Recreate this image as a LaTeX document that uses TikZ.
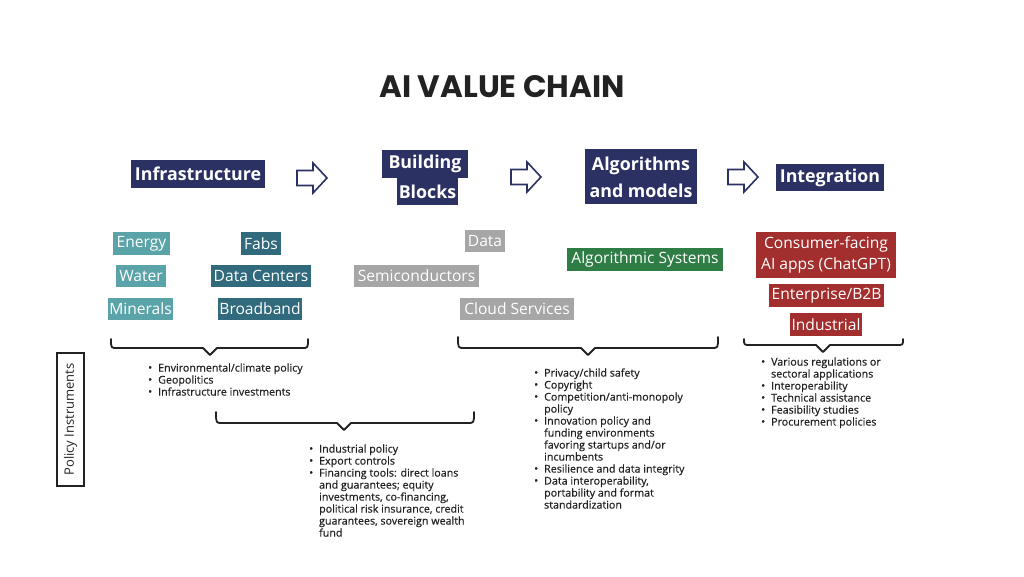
\documentclass[tikz,border=0pt]{standalone}
\usepackage{fontspec}
\setmainfont{Open Sans}
\newfontfamily\titlefont{Poppins}
\newfontfamily\listfont{Open Sans}[UprightFeatures={FakeBold=0.6}]
\usetikzlibrary{positioning}
\definecolor{navy}{RGB}{43,49,99}
\definecolor{lteal}{RGB}{90,163,168}
\definecolor{dteal}{RGB}{48,106,124}
\definecolor{gbox}{RGB}{166,166,166}
\definecolor{gbar}{RGB}{46,125,69}
\definecolor{rbox}{RGB}{163,46,46}
\definecolor{ink}{RGB}{34,34,34}
\newcommand{\bul}{\raisebox{0.3pt}{\fontsize{10.5}{10.5}\selectfont\textbullet}}
\tikzset{
  head/.style={fill=navy, text=white, inner sep=0pt, align=center,
    font=\bfseries\fontsize{17.8}{27}\selectfont},
  sub/.style={text=white, inner sep=0pt, align=center,
    font=\fontsize{15.6}{21}\selectfont},
  brace/.style={draw=ink, line width=1.8pt, line cap=round, line join=round},
  blist/.style={anchor=north west, inner sep=0pt, text=ink,
    font=\listfont\fontsize{10.7}{12}\selectfont},
  harrow/.style={draw=navy, line width=1.6pt, fill=white, line join=miter},
}
\newcommand{\brc}[5]{% x1, x2, ytop, yh, xtip
  \draw[brace] (#1,#3) .. controls (#1,#4) .. (#1+6,#4) -- (#5-7,#4) -- (#5,#4+7) -- (#5+7,#4) -- (#2-6,#4) .. controls (#2,#4) .. (#2,#3);}
\newcommand{\harr}[2]{% left x, center y
  \draw[harrow] (#1,#2-7.5) -- (#1+16,#2-7.5) -- (#1+16,#2-15) -- (#1+30,#2) -- (#1+16,#2+15) -- (#1+16,#2+7.5) -- (#1,#2+7.5) -- cycle;}
\begin{document}
\begin{tikzpicture}[x=1pt,y=-1pt]
\useasboundingbox (0,0) rectangle (1024,577);
% title
\node[font=\titlefont\bfseries\fontsize{31}{34}\selectfont, text=ink] (title) at (502,87) {AI VALUE CHAIN};
% headers
\node[head, minimum width=134, minimum height=28] (infra) at (198,174) {Infrastructure};
\node[head, minimum width=86, minimum height=28] (bb1) at (425,164) {Building};
\node[head, minimum width=61, minimum height=27] (bb2) at (427.5,191.5) {Blocks};
\node[head, minimum width=112, minimum height=55] (algo) at (641,177) {Algorithms\\and models};
\node[head, minimum width=108, minimum height=27] (integ) at (830,177.5) {Integration};
% block arrows
\harr{297}{178}
\harr{511}{177}
\harr{728}{177}
% infrastructure items
\node[sub, fill=lteal, minimum width=57, minimum height=23] (energy) at (141.5,243.5) {Energy};
\node[sub, fill=lteal, minimum width=50, minimum height=22] (water) at (141,276) {Water};
\node[sub, fill=lteal, minimum width=65, minimum height=22] (minerals) at (140.5,309) {Minerals};
\node[sub, fill=dteal, minimum width=40, minimum height=23] (fabs) at (261,243.5) {Fabs};
\node[sub, fill=dteal, minimum width=100, minimum height=22] (dc) at (261,276) {Data Centers};
\node[sub, fill=dteal, minimum width=84, minimum height=22] (bband) at (260,309) {Broadband};
% building blocks items
\node[sub, fill=gbox, minimum width=40, minimum height=22] (data) at (485,241) {Data};
\node[sub, fill=gbox, minimum width=125, minimum height=22] (semi) at (416.5,276) {Semiconductors};
\node[sub, fill=gbox, minimum width=114, minimum height=22] (cloud) at (517,309) {Cloud Services};
% algorithms
\node[sub, fill=gbar, minimum width=156, minimum height=23] (asys) at (645,259.5) {Algorithmic Systems};
% integration
\node[sub, fill=rbox, minimum width=140, minimum height=46] (cons) at (826,255) {Consumer-facing\\AI apps (ChatGPT)};
\node[sub, fill=rbox, minimum width=115, minimum height=23] (ent) at (826.5,295.5) {Enterprise/B2B};
\node[sub, fill=rbox, minimum width=72, minimum height=23] (ind) at (826,324.5) {Industrial};
% braces
\brc{111}{308}{339}{348}{210}
\brc{216}{474}{412}{423}{344}
\brc{458}{718}{337}{348}{588}
\brc{744}{903}{339}{345}{823}
% lists
\node[blist] (l1) at (148,363) {\begin{tabular}{@{}l@{\hspace{6pt}}l@{}}
\bul & Environmental/climate policy\\
\bul & Geopolitics\\
\bul & Infrastructure investments
\end{tabular}};
\node[blist] (l2) at (309,444) {\begin{tabular}{@{}l@{\hspace{6pt}}l@{}}
\bul & Industrial policy\\
\bul & Export controls\\
\bul & Financing tools: direct loans\\
 & and guarantees; equity\\
 & investments, co-financing,\\
 & political risk insurance, credit\\
 & guarantees, sovereign wealth\\
 & fund
\end{tabular}};
\node[blist] (l3) at (534,368) {\begin{tabular}{@{}l@{\hspace{6pt}}l@{}}
\bul & Privacy/child safety\\
\bul & Copyright\\
\bul & Competition/anti-monopoly\\
 & policy\\
\bul & Innovation policy and\\
 & funding environments\\
 & favoring startups and/or\\
 & incumbents\\
\bul & Resilience and data integrity\\
\bul & Data interoperability,\\
 & portability and format\\
 & standardization
\end{tabular}};
\node[blist] (l4) at (761,357) {\begin{tabular}{@{}l@{\hspace{6pt}}l@{}}
\bul & Various regulations or\\
 & sectoral applications\\
\bul & Interoperability\\
\bul & Technical assistance\\
\bul & Feasibility studies\\
\bul & Procurement policies
\end{tabular}};
% policy instruments
\node[draw=ink, line width=1.6pt, rotate=90, minimum width=133, minimum height=27, inner sep=0pt, text=ink, font=\fontsize{13}{15}\selectfont] (policy) at (70.5,419.5) {Policy Instruments};
\end{tikzpicture}
\end{document}
